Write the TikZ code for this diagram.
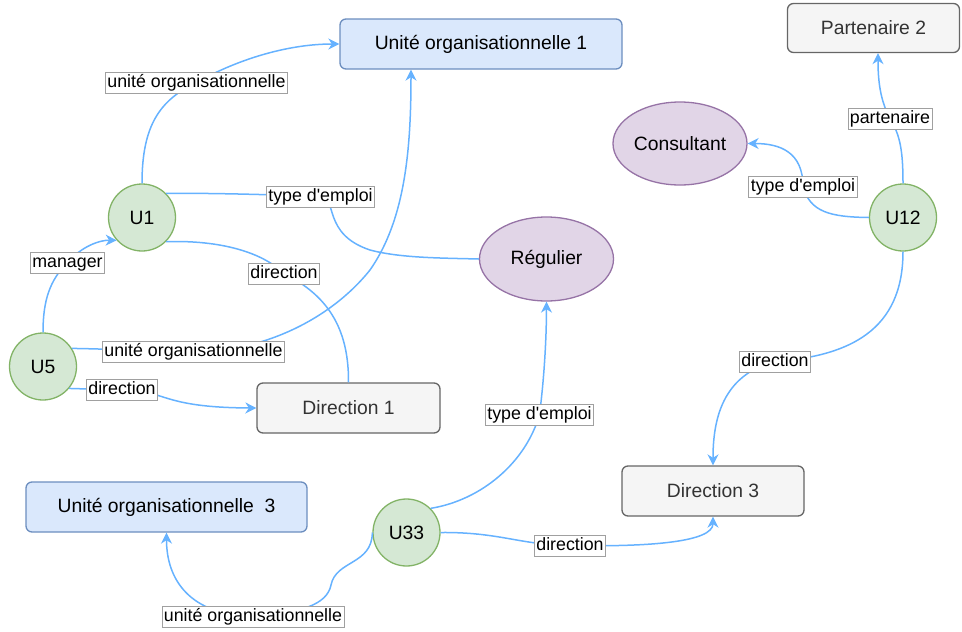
\documentclass[tikz,border=0pt]{standalone}
\usepackage{fontspec}
\setmainfont{Liberation Sans}
\usetikzlibrary{arrows.meta,shapes.geometric}

\definecolor{edgeblue}{HTML}{66B2FF}
\definecolor{orgfill}{HTML}{DAE8FC}
\definecolor{orgline}{HTML}{6C8EBF}
\definecolor{greyfill}{HTML}{F5F5F5}
\definecolor{greyline}{HTML}{666666}
\definecolor{greytext}{HTML}{333333}
\definecolor{greenfill}{HTML}{D5E8D4}
\definecolor{greenline}{HTML}{82B366}
\definecolor{purplefill}{HTML}{E1D5E7}
\definecolor{purpleline}{HTML}{9673A6}
\definecolor{lblline}{HTML}{A0A0A0}

\newcommand\nodefont{\fontsize{19.3}{22}\selectfont}
\newcommand\lblfont{\fontsize{17.8}{20}\selectfont}

\tikzset{
  box/.style={rectangle, rounded corners=6pt, line width=1.3pt,
    minimum height=50pt, font=\nodefont, inner sep=0pt},
  orgbox/.style={box, fill=orgfill, draw=orgline},
  greybox/.style={box, fill=greyfill, draw=greyline, text=greytext},
  person/.style={circle, minimum size=67pt, fill=greenfill, draw=greenline,
    line width=1.3pt, font=\nodefont, inner sep=0pt},
  kind/.style={ellipse, minimum width=134pt, minimum height=83pt,
    fill=purplefill, draw=purpleline, line width=1.3pt, font=\nodefont, inner sep=0pt},
  link/.style={draw=edgeblue, line width=1.5pt,
    -{Stealth[length=11pt,width=11pt,inset=3.5pt]}},
  plainlink/.style={draw=edgeblue, line width=1.5pt},
  lbl/.style={fill=white, draw=lblline, line width=0.7pt, font=\lblfont,
    inner xsep=2pt, inner ysep=2pt, text height=13pt, text depth=4pt}
}

\begin{document}
\begin{tikzpicture}[x=1pt, y=-1pt]
\useasboundingbox (0,0) rectangle (962,632);

% entities
\node[orgbox, minimum width=282pt] (UO1) at (481,44) {Unité organisationnelle 1};
\node[orgbox, minimum width=281pt] (UO3) at (166.5,507) {Unité organisationnelle\ \ 3};
\node[greybox, minimum width=172pt, minimum height=49pt] (P2) at (873.5,28) {Partenaire 2};
\node[greybox, minimum width=183pt] (D1) at (348.5,408) {Direction 1};
\node[greybox, minimum width=182pt] (D3) at (713,491) {Direction 3};
\node[kind] (Cons) at (680,143.5) {Consultant};
\node[kind, minimum height=84pt] (Reg) at (546.5,259) {Régulier};
\node[person] (U1) at (142,217.5) {U1};
\node[person] (U5) at (43,366.5) {U5};
\node[person] (U12) at (903,217.5) {U12};
\node[person] (U33) at (406.5,532.5) {U33};

% label positions along the links
\coordinate (c1) at (196.5,82.5);
\coordinate (c2) at (320.5,196.5);
\coordinate (c3) at (284,273.5);
\coordinate (c4) at (67.5,262.5);
\coordinate (c5) at (193.5,352);
\coordinate (c6) at (122,389.5);
\coordinate (c7) at (890,118.5);
\coordinate (c8) at (803,186.5);
\coordinate (c9) at (775,361.5);
\coordinate (c10) at (539.5,414.5);
\coordinate (c11) at (570,545.5);
\coordinate (c12) at (253,616.5);

% links
\draw[link] (U1.north) .. controls (142,125) and (160,100) .. (c1)
  .. controls (240,58) and (290,44) .. (UO1.west);
\draw[plainlink] (U1.45) .. controls (220,193) and (280,195) .. (c2)
  .. controls (338,198) and (322,234) .. (370,250)
  .. controls (400,258) and (440,258) .. (Reg.west);
\draw[plainlink] (U1.-45) .. controls (220,240) and (262,252) .. (c3)
  .. controls (320,292) and (349,320) .. (D1.north);
\draw[link] (U5.north) .. controls (43,300) and (50,280) .. (c4)
  .. controls (82,246) and (100,240) .. (U1.-138);
\draw[link] (U5.32) .. controls (110,349) and (150,351) .. (c5)
  .. controls (262,352) and (330,320) .. (370,270)
  .. controls (405,220) and (411,150) .. ([xshift=-70pt]UO1.south);
\draw[link] (U5.-40) .. controls (90,389) and (100,389.5) .. (c6)
  .. controls (166,390) and (160,407.5) .. (D1.west);
\draw[link] (U12.north) .. controls (903,150) and (900,135) .. (c7)
  .. controls (880,100) and (878,80) .. ([xshift=4.5pt]P2.south);
\draw[link] (U12.west) .. controls (830,217) and (810,212) .. (c8)
  .. controls (803,152) and (780,143.5) .. (Cons.east);
\draw[link] (U12.south) .. controls (903,330) and (850,356) .. (c9)
  .. controls (722,375) and (713,420) .. (D3.north);
\draw[link] (U33.45) .. controls (482,500) and (526,462) .. (c10)
  .. controls (545,372) and (546.5,330) .. (Reg.south);
\draw[link] (U33.east) .. controls (500,532) and (520,545) .. (c11)
  .. controls (650,547) and (713,542) .. (D3.south);
\draw[link] (U33.west) .. controls (372,565) and (336,560) .. (331,585)
  .. controls (327,605) and (300,613) .. (c12)
  .. controls (190,615) and (166.5,580) .. (UO3.south);

% link labels
\node[lbl] (l1) at (c1) {unité organisationnelle};
\node[lbl] (l2) at (c2) {type d\textquotesingle emploi};
\node[lbl] (l3) at (c3) {direction};
\node[lbl] (l4) at (c4) {manager};
\node[lbl] (l5) at (c5) {unité organisationnelle};
\node[lbl] (l6) at (c6) {direction};
\node[lbl] (l7) at (c7) {partenaire};
\node[lbl] (l8) at (c8) {type d\textquotesingle emploi};
\node[lbl] (l9) at (c9) {direction};
\node[lbl] (l10) at (c10) {type d\textquotesingle emploi};
\node[lbl] (l11) at (c11) {direction};
\node[lbl] (l12) at (c12) {unité organisationnelle};
\end{tikzpicture}
\end{document}
